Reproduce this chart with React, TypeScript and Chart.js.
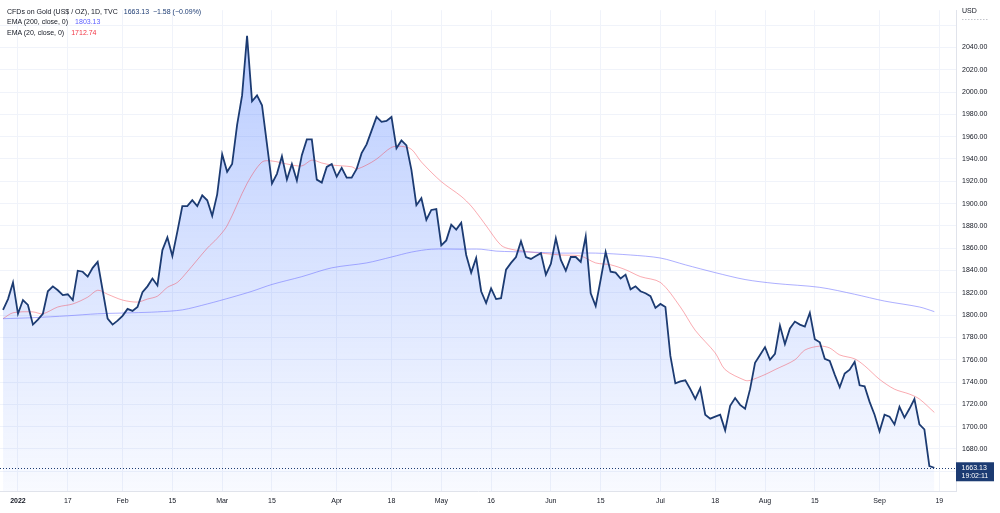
import React, { useEffect, useRef } from 'react';
import { Chart, registerables } from 'chart.js';

Chart.register(...registerables);

// ---- Data ----
const firstTradingDay = '2021-12-29';
const lastCalendarDay = '2022-09-30';

// Daily closes, CFDs on Gold (US$/OZ), one per weekday starting 2021-12-29
const closes = [
  1804.7, 1814.4, 1829.3, 1801.2, 1813.5, 1809.1, 1791.5, 1795.9, 1801.2, 1821.4,
  1825.8, 1822.3, 1817.9, 1818.7, 1813.5, 1839.8, 1838.9, 1834.5, 1842.4, 1847.7,
  1822.3, 1796.8, 1791.5, 1795.0, 1799.4, 1805.6, 1803.8, 1807.3, 1820.5, 1825.8,
  1832.8, 1826.6, 1858.3, 1869.7, 1853.0, 1874.9, 1897.8, 1897.8, 1903.0, 1897.8,
  1907.4, 1903.0, 1889.0, 1908.3, 1944.3, 1928.5, 1935.5, 1970.6, 1997.0, 2050.5,
  1991.7, 1997.0, 1988.2, 1953.1, 1918.0, 1926.7, 1942.5, 1921.5, 1935.5, 1920.6,
  1943.4, 1957.5, 1957.5, 1921.5, 1918.8, 1932.9, 1935.5, 1924.1, 1932.0, 1923.2,
  1923.2, 1931.1, 1945.2, 1953.1, 1965.4, 1977.7, 1973.3, 1974.1, 1977.7, 1949.6,
  1956.6, 1952.2, 1930.2, 1898.6, 1904.8, 1885.5, 1894.3, 1895.1, 1862.6, 1867.0,
  1881.1, 1876.7, 1882.8, 1853.9, 1838.1, 1851.2, 1821.4, 1810.8, 1824.0, 1814.4,
  1815.2, 1840.7, 1846.8, 1852.1, 1866.2, 1852.1, 1850.4, 1853.0, 1855.6, 1836.3,
  1846.0, 1868.8, 1849.5, 1839.8, 1852.1, 1852.1, 1847.7, 1870.5, 1819.6, 1808.2,
  1831.9, 1856.5, 1838.9, 1838.1, 1832.8, 1836.3, 1823.1, 1825.8, 1821.4, 1819.6,
  1817.0, 1806.5, 1810.0, 1807.3, 1763.4, 1738.8, 1740.6, 1741.5, 1733.6, 1724.8,
  1734.5, 1710.7, 1707.2, 1709.0, 1710.7, 1696.7, 1718.7, 1725.7, 1719.5, 1716.0,
  1733.6, 1757.3, 1764.3, 1771.3, 1759.9, 1765.2, 1790.6, 1774.0, 1788.0, 1794.2,
  1791.5, 1789.8, 1802.1, 1778.4, 1775.7, 1760.8, 1759.0, 1746.7, 1735.3, 1747.6,
  1751.1, 1758.2, 1737.1, 1736.2, 1722.2, 1710.7, 1695.8, 1710.7, 1709.0, 1702.0,
  1717.8, 1708.1, 1716.0, 1724.8, 1702.0, 1697.6, 1664.71, 1663.13,
];

// EMA(20) readings: trading-day index -> value
const ema20Days = [
  0, 2, 6, 8, 11, 14, 17, 19, 21, 24, 27, 29, 31, 33, 35, 37, 41, 43, 45, 49,
  52, 54, 57, 60, 62, 64, 66, 70, 71, 73, 75, 78, 80, 82, 84, 88, 92, 94, 96, 97,
  100, 102, 106, 108, 112, 116, 119, 122, 125, 128, 132, 136, 139, 143, 145, 149, 150, 153, 155, 159,
  161, 164, 166, 168, 171, 173, 176, 179, 182, 184, 187,
];
const ema20Values = [
  1796.8, 1802.1, 1802.9, 1801.2, 1807.3, 1810.0, 1816.1, 1822.3, 1818.7, 1813.5,
  1811.7, 1814.4, 1817.0, 1824.9, 1829.3, 1838.9, 1860.0, 1868.8, 1880.2, 1918.0,
  1937.3, 1938.2, 1935.5, 1933.8, 1939.0, 1936.4, 1934.6, 1933.0, 1931.1, 1934.6,
  1939.9, 1950.4, 1951.3, 1948.7, 1937.3, 1919.7, 1906.5, 1897.8, 1886.3, 1880.2,
  1862.6, 1859.1, 1856.5, 1855.6, 1853.9, 1853.0, 1846.8, 1845.1, 1840.7, 1834.5,
  1829.3, 1807.3, 1786.3, 1766.1, 1751.1, 1741.5, 1741.5, 1746.7, 1751.1, 1759.9,
  1768.7, 1772.2, 1770.5, 1764.3, 1760.8, 1754.6, 1742.4, 1733.6, 1729.2, 1724.8, 1712.74,
];

// EMA(200) readings: trading-day index -> value
const ema200Days = [
  0, 6, 13, 19, 26, 31, 36, 41, 46, 50, 54, 60, 66, 73, 78, 82, 86, 92, 96, 99,
  106, 112, 119, 126, 132, 137, 143, 149, 155, 164, 171, 177, 184, 187,
];
const ema200Values = [
  1796.8, 1797.7, 1799.4, 1801.2, 1802.1, 1802.9, 1804.7, 1810.0, 1816.1, 1821.4,
  1827.5, 1834.5, 1842.4, 1846.8, 1852.1, 1856.5, 1859.1, 1859.1, 1859.1, 1857.4,
  1856.5, 1855.6, 1855.6, 1853.9, 1851.2, 1845.1, 1838.1, 1831.9, 1828.4, 1824.9,
  1818.7, 1812.6, 1807.3, 1803.13,
];

const tickDates = [
  '2022-01-03', '2022-01-17', '2022-02-01', '2022-02-15', '2022-03-01', '2022-03-15',
  '2022-04-01', '2022-04-18', '2022-05-02', '2022-05-16', '2022-06-01', '2022-06-15',
  '2022-07-01', '2022-07-18', '2022-08-01', '2022-08-15', '2022-09-01', '2022-09-19',
];
const tickLabels = [
  '2022', '17', 'Feb', '15', 'Mar', '15', 'Apr', '18', 'May', '16', 'Jun', '15',
  'Jul', '18', 'Aug', '15', 'Sep', '19',
];
const priceTicks = [1660, 1680, 1700, 1720, 1740, 1760, 1780, 1800, 1820, 1840, 1860, 1880, 1900, 1920, 1940, 1960, 1980, 2000, 2020, 2040, 2060];
const hiddenPriceTicks = [1660, 2060];

const legendTitle = 'CFDs on Gold (US$ / OZ), 1D, TVC';
const legendLastText = '1663.13  −1.58 (−0.09%)';
const ema200Label = 'EMA (200, close, 0)';
const ema200Last = '1803.13';
const ema20Label = 'EMA (20, close, 0)';
const ema20Last = '1712.74';
const lastClose = 1663.13;
const lastCloseLabel = '1663.13';
const countdownLabel = '19:02:11';
const currencyLabel = 'USD';

// ---- Styles ----
const W = 1000;
const H = 513;
const FONT = "'Liberation Sans', Arial, sans-serif";
const LINE = '#1c3b72';
const TEXT = '#131722';
const GRID = '#f0f3fa';
const BORDER = '#e0e3eb';
const EMA200_LINE = 'rgba(118,122,255,0.6)';
const EMA200_TEXT = '#5b5eff';
const EMA20_LINE = 'rgba(242,54,69,0.42)';
const EMA20_TEXT = '#f23645';

function tradingDays(start: string, end: string): string[] {
  const out: string[] = [];
  const d = new Date(start + 'T00:00:00Z');
  const e = new Date(end + 'T00:00:00Z');
  while (d <= e) {
    const w = d.getUTCDay();
    if (w !== 0 && w !== 6) out.push(d.toISOString().slice(0, 10));
    d.setUTCDate(d.getUTCDate() + 1);
  }
  return out;
}

export default function App() {
  const canvasRef = useRef<HTMLCanvasElement | null>(null);

  useEffect(() => {
    const canvas = canvasRef.current;
    if (!canvas) return;
    const days = tradingDays(firstTradingDay, lastCalendarDay);
    const tickIdx = tickDates.map((d) => days.indexOf(d));

    const overlay = {
      id: 'overlay',
      beforeDatasetsDraw(chart: any) {
        const { ctx, chartArea, scales } = chart;
        const y = Math.round(scales.y.getPixelForValue(lastClose)) + 0.5;
        ctx.save();
        ctx.strokeStyle = LINE;
        ctx.lineWidth = 1;
        ctx.setLineDash([1, 2]);
        ctx.beginPath();
        ctx.moveTo(chartArea.left, y);
        ctx.lineTo(chartArea.right, y);
        ctx.stroke();
        ctx.restore();
      },
      afterDraw(chart: any) {
        const { ctx, chartArea, scales } = chart;
        const y = scales.y.getPixelForValue(lastClose);
        ctx.save();
        ctx.fillStyle = LINE;
        ctx.fillRect(chartArea.right, y - 5.5, 38, 19);
        ctx.fillStyle = '#ffffff';
        ctx.font = `7px ${FONT}`;
        ctx.textBaseline = 'middle';
        ctx.textAlign = 'left';
        ctx.fillText(lastCloseLabel, chartArea.right + 5.5, y);
        ctx.fillText(countdownLabel, chartArea.right + 5.5, y + 8);
        // currency label
        ctx.fillStyle = TEXT;
        ctx.fillText(currencyLabel, chartArea.right + 6, 11);
        ctx.strokeStyle = '#b2b5be';
        ctx.setLineDash([1.5, 1.5]);
        ctx.lineWidth = 0.8;
        ctx.beginPath();
        ctx.moveTo(chartArea.right + 6, 19.5);
        ctx.lineTo(chartArea.right + 32, 19.5);
        ctx.stroke();
        ctx.restore();
      },
    };

    const chart = new Chart(canvas, {
      type: 'line',
      data: {
        datasets: [
          {
            label: 'Close',
            data: closes.map((v, i) => ({ x: i, y: v })),
            borderColor: LINE,
            borderWidth: 1.8,
            pointRadius: 0,
            tension: 0,
            fill: 'start',
            backgroundColor: (c: any) => {
              const area = c.chart.chartArea;
              if (!area) return 'rgba(41,98,255,0.15)';
              const g = c.chart.ctx.createLinearGradient(0, area.top, 0, area.bottom);
              g.addColorStop(0, 'rgba(41,98,255,0.34)');
              g.addColorStop(1, 'rgba(41,98,255,0.03)');
              return g;
            },
            order: 0,
          },
          {
            label: 'EMA 200',
            data: ema200Days.map((d, i) => ({ x: d, y: ema200Values[i] })),
            borderColor: EMA200_LINE,
            borderWidth: 1,
            pointRadius: 0,
            tension: 0.3,
            fill: false,
            order: 1,
          },
          {
            label: 'EMA 20',
            data: ema20Days.map((d, i) => ({ x: d, y: ema20Values[i] })),
            borderColor: EMA20_LINE,
            borderWidth: 1,
            pointRadius: 0,
            tension: 0.3,
            fill: false,
            order: 2,
          },
        ],
      },
      options: {
        responsive: false,
        maintainAspectRatio: false,
        animation: false,
        layout: { padding: 0 },
        plugins: {
          legend: { display: false },
          tooltip: { enabled: false },
          filler: { drawTime: 'beforeDatasetsDraw' },
        } as any,
        scales: {
          x: {
            type: 'linear',
            position: 'bottom',
            min: -0.61,
            max: 191.35,
            grid: { color: GRID, drawTicks: false, lineWidth: 1 },
            border: { color: BORDER },
            afterBuildTicks: (axis: any) => {
              axis.ticks = tickIdx.map((v) => ({ value: v }));
            },
            afterFit: (axis: any) => {
              axis.height = 22;
            },
            ticks: {
              autoSkip: false,
              maxRotation: 0,
              padding: 6,
              color: TEXT,
              font: (c: any) => ({
                family: FONT,
                size: 7,
                weight: c.index === 0 ? 'bold' : 'normal',
              }),
              callback: (_v: any, i: number) => tickLabels[i],
            },
          },
          y: {
            type: 'linear',
            position: 'right',
            min: 1642.3,
            max: 2073.4,
            grid: { color: GRID, drawTicks: false, lineWidth: 1 },
            border: { color: BORDER },
            afterBuildTicks: (axis: any) => {
              axis.ticks = priceTicks.map((v) => ({ value: v }));
            },
            afterFit: (axis: any) => {
              axis.width = 44;
            },
            ticks: {
              padding: 6,
              color: TEXT,
              font: { family: FONT, size: 7 },
              callback: (v: any) => (hiddenPriceTicks.includes(Number(v)) ? '' : Number(v).toFixed(2)),
            },
          },
        },
      },
      plugins: [overlay],
    } as any);

    return () => chart.destroy();
  }, []);

  const legendStyle: React.CSSProperties = {
    position: 'absolute',
    left: 7,
    top: 6.5,
    fontFamily: FONT,
    fontSize: 7,
    lineHeight: '10.75px',
    color: TEXT,
    whiteSpace: 'pre',
    pointerEvents: 'none',
  };

  return (
    <div style={{ position: 'absolute', left: 0, top: 0, width: W, height: H, background: '#ffffff' }}>
      <canvas ref={canvasRef} width={W} height={H} style={{ display: 'block', width: W, height: H }} />
      <div style={legendStyle}>
        <div>
          <span>{legendTitle}</span>
          <span style={{ marginLeft: 6, color: LINE }}>{legendLastText}</span>
        </div>
        <div>
          <span>{ema200Label}</span>
          <span style={{ marginLeft: 7, color: EMA200_TEXT }}>{ema200Last}</span>
        </div>
        <div>
          <span>{ema20Label}</span>
          <span style={{ marginLeft: 7, color: EMA20_TEXT }}>{ema20Last}</span>
        </div>
      </div>
    </div>
  );
}
